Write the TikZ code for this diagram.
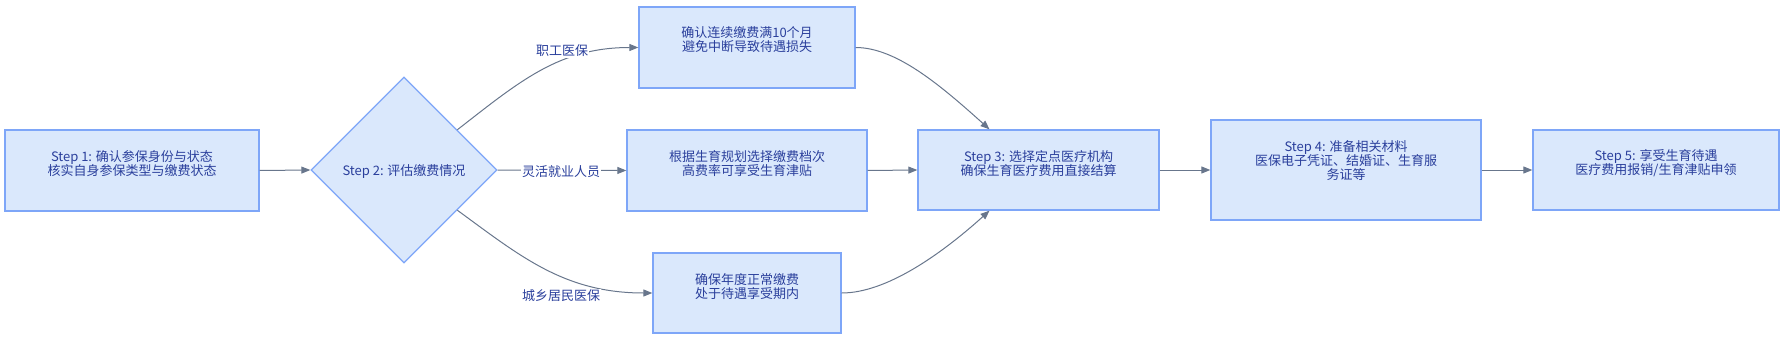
\documentclass[tikz,border=0pt]{standalone}
\usepackage{fontspec}
\setmainfont{Noto Sans CJK SC}
\usetikzlibrary{arrows.meta,shapes.geometric,calc}
\definecolor{boxfill}{HTML}{DAE8FC}
\definecolor{boxline}{HTML}{7EA6F8}
\definecolor{txtc}{HTML}{2A3F9C}
\definecolor{arrc}{HTML}{68768C}
\begin{document}
\begin{tikzpicture}[x=1pt,y=-1pt,
  box/.style={draw=boxline, fill=boxfill, line width=1.3pt, rectangle, inner sep=0pt},
  dia/.style={draw=boxline, fill=boxfill, line width=1.3pt, diamond, shape aspect=1, inner sep=0pt},
  txt/.style={text=txtc, font=\fontsize{13pt}{14pt}\selectfont, align=center, inner sep=0pt},
  lbl/.style={text=txtc, font=\fontsize{13pt}{14pt}\selectfont, fill=white, inner sep=1pt},
  arr/.style={draw=arrc, line width=1pt, -{Triangle[length=9pt,width=7pt]}}]
\useasboundingbox (0,0) rectangle (1784,342);

% boxes
\node[box, minimum width=254pt, minimum height=81pt] (s1) at (132,170.5) {};
\node[dia, minimum width=186pt, minimum height=186pt] (d) at (404,170) {};
\node[box, minimum width=216pt, minimum height=81pt] (b1) at (747,47.5) {};
\node[box, minimum width=240pt, minimum height=81pt] (b2) at (747,170.5) {};
\node[box, minimum width=188pt, minimum height=80pt] (b3) at (747,293) {};
\node[box, minimum width=241pt, minimum height=80pt] (s3) at (1038.5,170) {};
\node[box, minimum width=270pt, minimum height=100pt] (s4) at (1346,170) {};
\node[box, minimum width=246pt, minimum height=80pt] (s5) at (1656,170) {};

% texts
\node[txt] (s1t) at (132,164) {Step 1: 确认参保身份与状态\\核实自身参保类型与缴费状态};
\node[txt] (dt) at (404,172) {Step 2: 评估缴费情况};
\node[txt] (b1t) at (747,40) {确认连续缴费满10个月\\避免中断导致待遇损失};
\node[txt] (b2t) at (747,163.5) {根据生育规划选择缴费档次\\高费率可享受生育津贴};
\node[txt] (b3t) at (747,286.5) {确保年度正常缴费\\处于待遇享受期内};
\node[txt] (s3t) at (1038.5,164) {Step 3: 选择定点医疗机构\\确保生育医疗费用直接结算};
\node[txt] (s4t) at (1346,160.5) {Step 4: 准备相关材料\\医保电子凭证、结婚证、生育服\\务证等};
\node[txt] (s5t) at (1656,163.5) {Step 5: 享受生育待遇\\医疗费用报销/生育津贴申领};

% connection points
\coordinate (dne) at ($(d.north)!0.57!(d.east)$);
\coordinate (dse) at ($(d.south)!0.57!(d.east)$);
\coordinate (s3n) at ([xshift=-49pt]s3.north);
\coordinate (s3s) at ([xshift=-49pt]s3.south);

% connectors
\draw[arr] (s1.east) -- (d.west);
\draw[arr] (dne) .. controls +(63,-49) and +(-79,0) .. (b1.west);
\draw[arr] (d.east) -- (b2.west);
\draw[arr] (dse) .. controls +(63,46) and +(-88,0) .. (b3.west);
\draw[arr] (b1.east) .. controls +(40,0) and +(-50,-45) .. (s3n);
\draw[arr] (b2.east) -- (s3.west);
\draw[arr] (b3.east) .. controls +(44,0) and +(-50,45) .. (s3s);
\draw[arr] (s3.east) -- (s4.west);
\draw[arr] (s4.east) -- (s5.west);

% edge labels
\node[lbl] (l1) at (562,51) {职工医保};
\node[lbl] (l2) at (561,172) {灵活就业人员};
\node[lbl] (l3) at (561,296) {城乡居民医保};
\end{tikzpicture}
\end{document}
